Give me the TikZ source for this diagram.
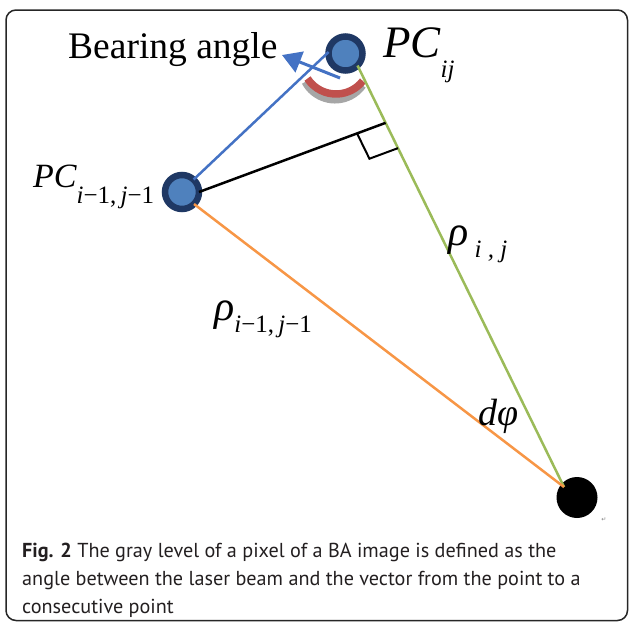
\documentclass[tikz,border=0pt]{standalone}
\usepackage{fontspec}
\setmainfont{Liberation Serif}
\newfontfamily\capfont{PT Sans}
\newfontfamily\symfont{DejaVu Sans}
\usetikzlibrary{positioning}
\usetikzlibrary{arrows.meta,calc}

\definecolor{ringnavy}{RGB}{31,56,100}
\definecolor{dotblue}{RGB}{79,129,189}
\definecolor{beamgreen}{RGB}{155,187,89}
\definecolor{beamorange}{RGB}{247,150,70}
\definecolor{arcred}{RGB}{192,80,77}
\definecolor{arcgray}{RGB}{166,166,166}
\definecolor{vecblue}{RGB}{68,114,196}
\definecolor{captext}{RGB}{35,31,32}

\begin{document}
\begin{tikzpicture}[x=1pt, y=-1pt,
    point/.style={draw=ringnavy, fill=dotblue, circle, line width=6.5pt,
      minimum size=34pt, inner sep=0pt, outer sep=0pt},
    sensor/.style={fill=black, circle, minimum size=41pt, inner sep=0pt},
    txt/.style={anchor=base west, inner sep=0pt},
    beam/.style={line width=2.5pt}]
  \useasboundingbox (0,0) rectangle (629,622);

  % Puntos
  \node[point] (pcij) at (345.5,53.5) {};
  \node[point] (pcim) at (182,192) {};
  \node[sensor] (laser) at (577,497.5) {};
  \coordinate (hit) at (564,487);

  % Arcos del angulo
  \draw[arcgray, line width=7pt] (335,66) ++(152:34) arc[start angle=152, end angle=35, radius=34];
  \draw[arcred, line width=7.5pt] (336,60) ++(147:34) arc[start angle=147, end angle=38, radius=34];

  % Rayos
  \draw[beam, beamgreen] (pcij.-45) -- (hit);
  \draw[beam, beamorange] (pcim.-45) -- (hit);
  \draw[beam, vecblue] (pcim.47) -- (pcij.175);

  % Perpendicular
  \coordinate (foot) at ($(pcij.-45)!0.136!(hit)$);
  \draw[line width=2.5pt] (pcim.east) -- (foot);
  \coordinate (m1) at ($(pcim.east)!0.847!(foot)$);
  \coordinate (m2) at ($(pcij.-45)!0.196!(hit)$);
  \draw[line width=2pt] (m1) -- ($(m1)+(m2)-(foot)$) -- (m2);

  % Flecha
  \coordinate (batail) at (340,78);
  \coordinate (batip) at (282,55);
  \draw[vecblue, line width=3pt, -{Triangle[length=19pt,width=22pt]}] (batail) -- (batip);

  % Etiquetas
  \node[txt, font=\fontsize{37.5}{37.5}\selectfont] (bearing) at (68,58) {Bearing angle};
  \node[txt, font=\fontsize{45}{45}\selectfont\itshape] (lblij) at (383,57)
    {PC\raisebox{-20pt}{\fontsize{25}{25}\selectfont ij}};
  \node[txt, font=\fontsize{34}{34}\selectfont\itshape] (lblim) at (33,187)
    {PC\raisebox{-16pt}{\fontsize{25}{25}\selectfont i\upshape −1,\,\itshape j\upshape −1}};
  \node[txt, font=\fontsize{42}{42}\selectfont\itshape] (rhoim) at (214,320)
    {ρ\raisebox{-12pt}{\fontsize{25}{25}\selectfont i\upshape −1,\,\itshape j\upshape −1}};
  \node[txt, font=\fontsize{42}{42}\selectfont\itshape] (rhoij) at (448,245)
    {ρ\raisebox{-12pt}{\fontsize{25}{25}\selectfont\ i , j}};
  \node[txt, font=\fontsize{38}{38}\selectfont\itshape] (dphi) at (478,425) {dφ};
  \node[font=\symfont\fontsize{6}{6}\selectfont, text=gray] (mark) at (604,520) {↵};

  % Leyenda
  \node[txt, font=\capfont\fontsize{20.2}{20.2}\selectfont, text=captext] (cap1) at (22,557)
    {\textbf{Fig. 2} The gray level of a pixel of a BA image is defined as the};
  \node[txt, font=\capfont\fontsize{20.2}{20.2}\selectfont, text=captext] (cap2) at (22,585)
    {angle between the laser beam and the vector from the point to a};
  \node[txt, font=\capfont\fontsize{20.2}{20.2}\selectfont, text=captext] (cap3) at (22,613)
    {consecutive point};

  % Marco
  \draw[line width=1.5pt, rounded corners=10pt, black!85] (6,10) rectangle (627.5,620.5);
\end{tikzpicture}
\end{document}
